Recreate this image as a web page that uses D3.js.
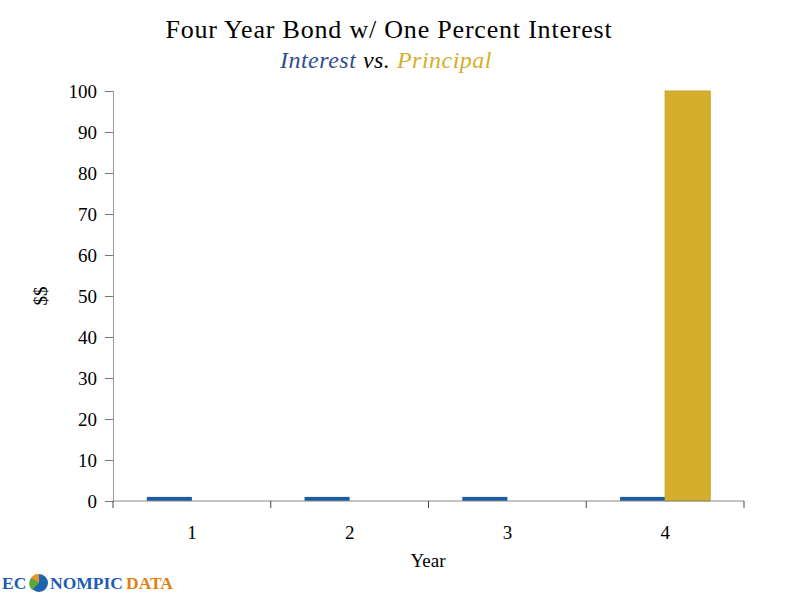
<!DOCTYPE html>
<html><head><meta charset="utf-8">
<script src="https://cdn.jsdelivr.net/npm/d3@7"></script>
<style>body{margin:0;background:#fff;} svg{display:block;}</style>
</head><body>
<svg id="c" width="800" height="600"></svg>
<script>
const years = ["1","2","3","4"];
const interest = [1,1,1,1];
const principal = [0,0,0,100];
const yTicks = [0,10,20,30,40,50,60,70,80,90,100];
const seriesNames = ["Interest","Principal"];
const colors = ["#1a5da0","#d4ae2c"];

const svg = d3.select("#c");
const font = "Liberation Serif";
const m = {left:113, right:744, top:91, bottom:501};

const x0 = d3.scaleBand().domain(years).range([m.left, m.right]).paddingInner(0).paddingOuter(0);
const x1 = d3.scaleBand().domain(seriesNames).range([0, x0.bandwidth()]).paddingInner(0).paddingOuter(0.75);
const y = d3.scaleLinear().domain([0,100]).range([m.bottom, m.top]);

// title
svg.append("text").attr("x",389).attr("y",38).attr("text-anchor","middle")
  .attr("font-family",font).attr("font-size",26).attr("letter-spacing",0.8).attr("fill","#000")
  .text("Four Year Bond w/ One Percent Interest");
const sub = svg.append("text").attr("x",386).attr("y",68).attr("text-anchor","middle")
  .attr("font-family",font).attr("font-size",24).attr("font-style","italic").attr("letter-spacing",0.5);
sub.append("tspan").attr("fill","#2f4d8e").text("Interest");
sub.append("tspan").attr("fill","#000").text(" vs. ");
sub.append("tspan").attr("fill","#d4ae2c").text("Principal");

// bars
const data = years.map((yr,i)=>({yr, vals:[interest[i], principal[i]]}));
const g = svg.append("g");
data.forEach(d=>{
  d.vals.forEach((v,j)=>{
    if (v<=0) return;
    g.append("rect")
      .attr("x", x0(d.yr)+x1(seriesNames[j]))
      .attr("y", y(v))
      .attr("width", x1.bandwidth())
      .attr("height", y(0)-y(v))
      .attr("fill", colors[j])
      .attr("stroke", j===1 ? "#c9a21e" : "none")
      .attr("stroke-width", 1);
  });
});

// y axis
const ya = svg.append("g").attr("transform",`translate(${m.left},0)`)
  .call(d3.axisLeft(y).tickValues(yTicks).tickSize(8).tickPadding(8));
ya.attr("font-family",font);
ya.select(".domain").attr("stroke","#999");
ya.selectAll(".tick line").attr("stroke","#777");
ya.selectAll("text").attr("font-family",font).attr("font-size",19).attr("fill","#000");

// x axis
const xa = svg.append("g").attr("transform",`translate(0,${m.bottom})`);
xa.append("line").attr("x1",m.left).attr("x2",m.right).attr("y1",0).attr("y2",0).attr("stroke","#888");
const bounds = years.map(yr=>x0(yr)).concat([m.right]);
bounds.forEach(b=>{
  xa.append("line").attr("x1",b).attr("x2",b).attr("y1",0).attr("y2",7).attr("stroke","#444");
});
years.forEach(yr=>{
  xa.append("text").attr("x",x0(yr)+x0.bandwidth()/2).attr("y",38).attr("text-anchor","middle")
    .attr("font-family",font).attr("font-size",19).attr("fill","#000").text(yr);
});

// axis titles
svg.append("text").attr("x",428).attr("y",567).attr("text-anchor","middle")
  .attr("font-family",font).attr("font-size",19).text("Year");
svg.append("text").attr("transform","translate(47,296) rotate(-90)").attr("text-anchor","middle")
  .attr("font-family",font).attr("font-size",19).text("$$");

// logo
const lg = svg.append("g").attr("transform","translate(2,589)");
const lf = "Liberation Serif";
lg.append("text").attr("x",0).attr("y",0).attr("font-family",lf).attr("font-weight","bold")
  .attr("font-size",17.5).attr("fill","#1d5bb5").text("EC");
lg.append("circle").attr("cx",37).attr("cy",-6).attr("r",9).attr("fill","#1e63b0");
lg.append("path").attr("d","M37,-6 L29,-11 A9,9 0 0 1 37,-15 Z").attr("fill","#e8952a");
lg.append("path").attr("d","M37,-6 L29,-11 A9,9 0 0 0 30,1 Z").attr("fill","#5aa83b");
lg.append("text").attr("x",48).attr("y",0).attr("font-family",lf).attr("font-weight","bold")
  .attr("font-size",17.5).attr("fill","#1d5bb5").text("NOMPIC");
lg.append("text").attr("x",124).attr("y",0).attr("font-family",lf).attr("font-weight","bold")
  .attr("font-size",17.5).attr("fill","#e07f12").text("DATA");
</script>
</body></html>
